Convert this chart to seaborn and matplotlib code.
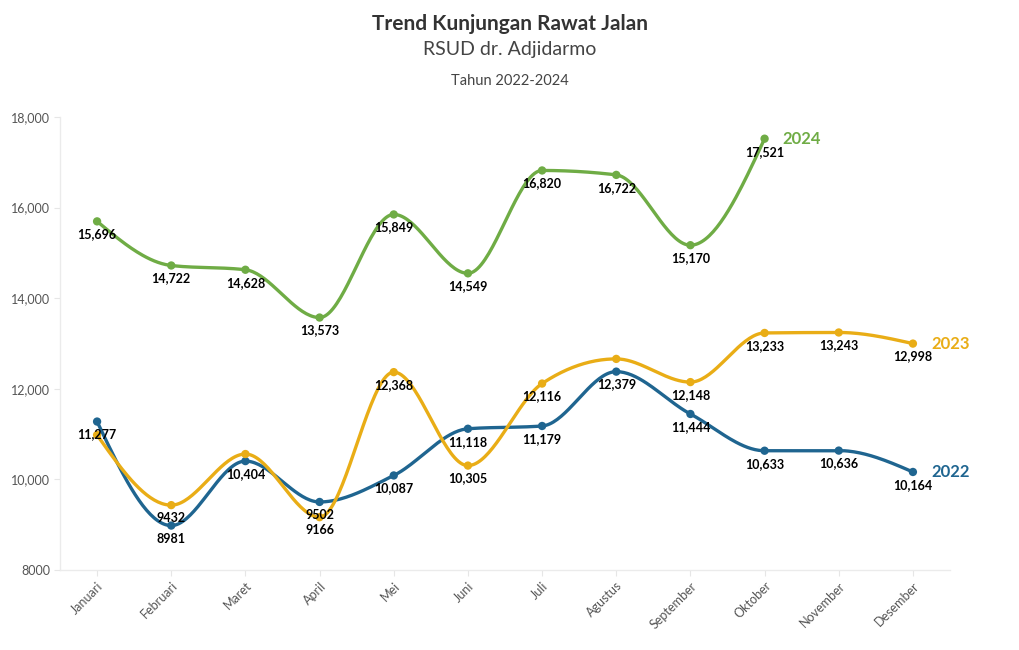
import numpy as np
import matplotlib
matplotlib.use("Agg")
import matplotlib.pyplot as plt
import seaborn as sns
from matplotlib import font_manager

months = ["Januari", "Februari", "Maret", "April", "Mei", "Juni", "Juli",
          "Agustus", "September", "Oktober", "November", "Desember"]

visits_2022 = [11277, 8981, 10404, 9502, 10087, 11118, 11179, 12379, 11444, 10633, 10636, 10164]
visits_2023 = [10980, 9432, 10560, 9166, 12368, 10305, 12116, 12660, 12148, 13233, 13243, 12998]
visits_2024 = [15696, 14722, 14628, 13573, 15849, 14549, 16820, 16722, 15170, 17521]

# labels the reference hides where they would overlap
show_2022 = [True] * 12
show_2023 = [False, True, False, True, True, True, True, False, True, True, True, True]
show_2024 = [True] * 10

series = [
    ("2022", visits_2022, show_2022, "#1f6590"),
    ("2023", visits_2023, show_2023, "#e9ad16"),
    ("2024", visits_2024, show_2024, "#6fac45"),
]

sns.set_theme(style="white")
names = {f.name for f in font_manager.fontManager.ttflist}
body = "Lato" if "Lato" in names else "DejaVu Sans"
plt.rcParams["font.family"] = [body, "DejaVu Sans"]

fig = plt.figure(figsize=(10.2, 6.5), dpi=100)
ax = fig.add_axes([60 / 1020, 1 - 570 / 650, 890 / 1020, 453 / 650])
ax.set_xlim(-0.5, 11.5)
ax.set_ylim(8000, 18000)


def monotone_curve(ys, n=40):
    """Monotone cubic (d3 curveMonotoneX style) through evenly spaced points."""
    y = np.asarray(ys, float)
    s = np.diff(y)  # secant slopes, h = 1
    m = np.zeros_like(y)
    for i in range(1, len(y) - 1):
        s0, s1 = s[i - 1], s[i]
        p = (s0 + s1) / 2
        m[i] = (np.sign(s0) + np.sign(s1)) * min(abs(s0), abs(s1), 0.5 * abs(p))
    m[0] = (3 * s[0] - m[1]) / 2
    m[-1] = (3 * s[-1] - m[-2]) / 2
    t = np.linspace(0, 1, n)
    cx, cy = [], []
    for i in range(len(y) - 1):
        p0, p3 = y[i], y[i + 1]
        p1, p2 = p0 + m[i] / 3, p3 - m[i + 1] / 3
        cy.append((1 - t) ** 3 * p0 + 3 * (1 - t) ** 2 * t * p1 + 3 * (1 - t) * t ** 2 * p2 + t ** 3 * p3)
        cx.append(i + t)
    return np.concatenate(cx), np.concatenate(cy)


def fmt(v):
    return f"{v:,}" if v >= 10000 else f"{v}"


for name, vals, show, color in series:
    xs = np.arange(len(vals))
    cx, cy = monotone_curve(vals)
    sns.lineplot(x=cx, y=cy, sort=False, color=color, lw=2.4, ax=ax, zorder=2)
    sns.scatterplot(x=xs, y=vals, color=color, s=36, edgecolor="none", ax=ax, zorder=3)
    for x, v, s in zip(xs, vals, show):
        if s:
            ax.annotate(fmt(v), (x, v), xytext=(0, -5), textcoords="offset points",
                        ha="center", va="top", fontsize=9, fontweight="bold",
                        color="black", zorder=4)
    ax.annotate(name, (xs[-1], vals[-1]), xytext=(13, 0), textcoords="offset points",
                ha="left", va="center", fontsize=12, fontweight="bold", color=color)

ax.set_xticks(range(len(months)))
ax.set_xticklabels(months, rotation=45, ha="right", rotation_mode="anchor",
                   fontsize=9, color="#555555")
yt = list(range(8000, 18001, 2000))
ax.set_yticks(yt)
ax.set_yticklabels([fmt(v) for v in yt], fontsize=9, color="#555555")
ax.tick_params(axis="both", length=4, width=0.8, color="#e6e6e6", pad=3, bottom=True, left=True)
for side in ["top", "right"]:
    ax.spines[side].set_visible(False)
for side in ["left", "bottom"]:
    ax.spines[side].set_color("#ebebeb")
    ax.spines[side].set_linewidth(1)
ax.grid(False)

fig.text(0.5, 1 - 24 / 650, "Trend Kunjungan Rawat Jalan", ha="center", va="center",
         fontsize=15, fontweight="bold", color="#333333")
fig.text(0.5, 1 - 50 / 650, "RSUD dr. Adjidarmo", ha="center", va="center",
         fontsize=14, color="#444444")
fig.text(0.5, 1 - 81 / 650, "Tahun 2022-2024", ha="center", va="center",
         fontsize=10.5, color="#444444")

fig.savefig("out.png", dpi=100)
